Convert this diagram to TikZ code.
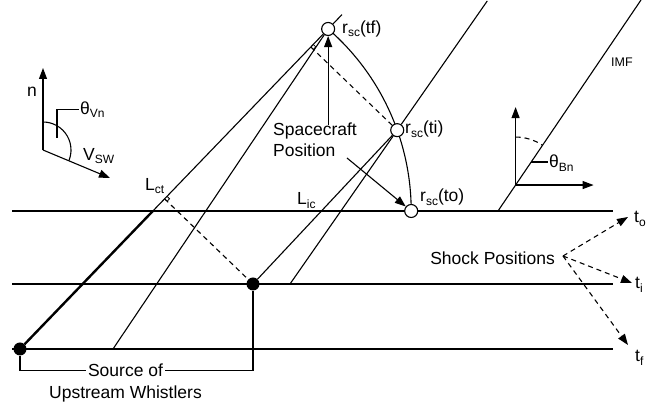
\documentclass[tikz,border=0pt]{standalone}
\usepackage{fontspec}
\setmainfont{Liberation Sans}
\usetikzlibrary{calc,arrows.meta}
\newcommand\mysub[1]{\raisebox{-3.5pt}{\fontsize{12}{12}\selectfont #1}}
\begin{document}
\begin{tikzpicture}[x=1pt,y=1pt,
  shockln/.style={line width=1.2pt},
  lnthin/.style={line width=1.1pt},
  lnthick/.style={line width=2.4pt},
  lnmark/.style={line width=0.8pt},
  dashln/.style={line width=1.1pt,dash pattern=on 5pt off 4pt},
  arr/.style={lnthin,-{Triangle[length=11pt,width=8pt]}},
  darr/.style={dashln,-{Triangle[length=11pt,width=8pt]}},
  scpos/.style={circle,draw,line width=1.1pt,fill=white,minimum size=13pt,inner sep=0pt},
  srcdot/.style={circle,fill=black,minimum size=13pt,inner sep=0pt},
  lbl/.style={inner sep=0pt,font=\fontsize{17.5}{21}\selectfont},
]
\useasboundingbox (0,0) rectangle (649,404);
% shock fronts
\coordinate (L0) at (12,193); \coordinate (R0) at (613,193);
\coordinate (L1) at (12,120); \coordinate (R1) at (613,120);
\coordinate (L2) at (12,55);  \coordinate (R2) at (613,55);
\coordinate (C) at (170.2,193);
\coordinate (A1) at (113,55);
\coordinate (B2) at (290,120);
\coordinate (C0) at (498,193);
\coordinate (IMFtop) at (641,404);
\coordinate (O1) at (43,254);
\coordinate (O2) at ($(C0)!0.123!(IMFtop)$);
\draw[shockln] (L0) -- (R0);
\draw[shockln] (L1) -- (R1);
\draw[shockln] (L2) -- (R2);
% spacecraft trajectory
\draw[lnthin] (C) ++(49.05:241) arc[start angle=49.05,end angle=0,radius=241];
\node[scpos] (tf) at ($(C)+(49.05:241)$) {};
\node[scpos] (ti) at ($(C)+(19.6:241)$) {};
\node[scpos] (to) at ($(C)+(0:241)$) {};
\node[srcdot] (S1) at (20,55) {};
\node[srcdot] (S2) at (253,120) {};
% field lines and paths
\coordinate (X1) at ($(S1)!0.43125!(tf)$);
\draw[lnthick] (S1) -- (X1);
\draw[lnthin] (X1) -- (tf);
\draw[lnthin] (tf) -- ($(S1)!1.045!(tf)$);
\draw[lnthin] (A1) -- (tf);
\draw[lnthin] (S2) -- (ti);
\draw[lnthin] (B2) -- (ti);
\draw[lnthin] (ti) -- ($(B2)!1.84!(ti)$);
\draw[lnthin] (C0) -- (IMFtop);
% perpendiculars
\coordinate (F1) at ($(S1)!(S2)!(tf)$);
\coordinate (F2) at ($(S1)!(ti)!(tf)$);
\draw[dashln] (F1) -- (S2);
\draw[dashln] (F2) -- (ti);
\coordinate (m1a) at ($(F1)!3.5pt!(tf)$);
\coordinate (m1b) at ($(F1)!3.5pt!(S2)$);
\coordinate (m1c) at ($(m1a)+(m1b)-(F1)$);
\draw[lnmark] (m1a) -- (m1c) -- (m1b);
\coordinate (m2a) at ($(F2)!3.5pt!(tf)$);
\coordinate (m2b) at ($(F2)!3.5pt!(ti)$);
\coordinate (m2c) at ($(m2a)+(m2b)-(F2)$);
\draw[lnmark] (m2a) -- (m2c) -- (m2b);
% n / Vsw axes
\coordinate (nTip) at (43,336);
\coordinate (vTip) at (110,226);
\draw[arr] (O1) -- (nTip);
\draw[arr] (O1) -- (vTip);
\draw[lnthin] (O1) ++(90:28) arc[start angle=90,end angle=-22.7,radius=28];
\node[lbl,anchor=base west] (nlab) at (27,307) {n};
\node[lbl,anchor=base west] (vsw) at (83,243.5) {V\mysub{SW}};
\node[lbl,anchor=base west,inner xsep=1.5pt] (thVn) at (78.5,289.5) {θ\mysub{Vn}};
\coordinate (lv1) at (57,266);
\draw[lnthin] (lv1) -- (lv1 |- thVn.west) -- (thVn.west);
% theta Bn axes
\coordinate (bnTip) at ($(O2)+(0,78)$);
\coordinate (bxTip) at ($(O2)+(78,0)$);
\draw[arr] (O2) -- (bnTip);
\draw[arr] (O2) -- (bxTip);
\draw[dashln] (O2) ++(90:48) arc[start angle=90,end angle=56,radius=48];
\node[lbl,anchor=base west,inner xsep=1.5pt] (thBn) at (547.5,236) {θ\mysub{Bn}};
\coordinate (lb1) at ($(C0)!0.2322!(IMFtop)$);
\draw[lnthin] (lb1) -- (lb1 -| thBn.west);
\node[inner sep=0pt,anchor=base west,font=\fontsize{12.5}{12.5}\selectfont] (imf) at (611,337) {IMF};
% labels
\node[lbl,anchor=base west] (Lct) at (145,213.5) {L\mysub{ct}};
\node[lbl,anchor=base west] (Lic) at (297,199) {L\mysub{ic}};
\node[lbl,anchor=base west] (rtf) at (342,370.5) {r\mysub{sc}(tf)};
\node[lbl,anchor=base west] (rti) at (405,270) {r\mysub{sc}(ti)};
\node[lbl,anchor=base west] (rto) at (420,202) {r\mysub{sc}(to)};
% spacecraft position
\node[lbl,align=left,anchor=north west] (scp) at (273,281) {Spacecraft\\Position};
\coordinate (sa0) at (0,279);
\coordinate (sa) at (tf |- sa0);
\draw[arr] (sa) -- (tf);
\coordinate (pa) at (347,246);
\draw[arr] (pa) -- (to);
% shock positions
\node[lbl,anchor=base east] (shp) at (555,139) {Shock Positions};
\coordinate (SP) at (563,148);
\coordinate (tipo) at (628,187);
\coordinate (tipi) at (632,121);
\coordinate (tipf) at (628,59);
\draw[darr] (SP) -- (tipo);
\draw[darr] (SP) -- (tipi);
\draw[darr] (SP) -- (tipf);
\node[lbl,anchor=base west] (tlo) at (634,181) {t\mysub{o}};
\node[lbl,anchor=base west] (tli) at (635,115) {t\mysub{i}};
\node[lbl,anchor=base west] (tlf) at (635,42) {t\mysub{f}};
% source of whistlers
\node[lbl,anchor=base,inner xsep=2pt] (src1) at (125.5,27) {Source of};
\node[lbl,anchor=base] (src2) at (125.5,5) {Upstream Whistlers};
\draw[lnthin] (S1) -- (S1 |- src1.west) -- (src1.west);
\draw[lnthin] (src1.east) -- (S2 |- src1.east) -- (S2);
\end{tikzpicture}
\end{document}
